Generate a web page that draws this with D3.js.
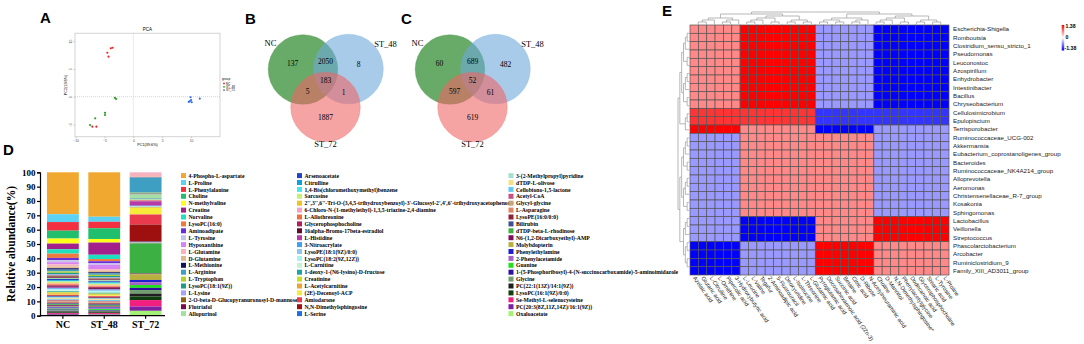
<!DOCTYPE html>
<html>
<head>
<meta charset="utf-8">
<script src="https://cdn.jsdelivr.net/npm/d3@7"></script>
<style>
  body { margin: 0; background: #fff; }
  svg { display: block; }
</style>
</head>
<body>
<svg width="1084" height="344"></svg>
<script>
// ---------- data ----------
const groups = ["NC", "ST_48", "ST_72"];

// A: PCA scores [PC1, PC2]
const pcaNC   = [[-3.9, 8.7], [-3.6, 8.8], [-4.5, 7.9], [-4.3, 7.2], [-7.1, -5.4], [-6.4, -5.4]];
const pcaST48 = [[-7.5, -5.1], [-6.6, -3.9], [-4.9, -2.9], [-4.9, -3.3], [-3.2, -0.2], [-3.0, -0.4]];
const pcaST72 = [[9.9, -0.1], [9.8, -0.8], [10.1, -1.0], [9.6, -0.95], [11.5, -0.35], [10.0, -0.6]];
const pcaTicksX = [-10, -5, 0, 5, 10];
const pcaTicksY = [-5, 0, 5, 10];
const pcaColors = ["#e8262b", "#2ca02c", "#2f6fe8"];

// B, C: Venn counts, regions: NC only, NC&48, 48 only, all, NC&72, 48&72, 72 only
const vennB = [137, 2050, 8, 183, 5, 1, 1887];
const vennC = [60, 689, 482, 52, 597, 61, 619];
const vennColors = ["#2e8b2e", "#6fa8dc", "#ee6666"];

// D: stacked relative abundance
const metabolites = [
  "4-Phospho-L-aspartate","L-Proline","L-Phenylalanine","Choline","N-methylvaline","Creatine","Norvaline",
  "LysoPC(16:0)","Aminoadipate","L-Tyrosine","Hypoxanthine","L-Glutamine","D-Glutamine","L-Methionine",
  "L-Arginine","L-Tryptophan","LysoPC(18:1(9Z))","L-Lysine","2-O-beta-D-Glucopyranuronosyl-D-mannose","Flutriafol","Allopurinol",
  "Arsenoacetate","Citrulline","1,4-Bis(chloromethoxymethyl)benzene","Sarcosine",
  "2'',3'',6''-Tri-O-(3,4,5-trihydroxybenzoyl)-3'-Glucosyl-2',4',6'-trihydroxyacetophenone",
  "6-Chloro-N-(1-methylethyl)-1,3,5-triazine-2,4-diamine","L-Allothreonine","Glycerophosphocholine",
  "16alpha-Bromo-17beta-estradiol","L-Histidine","3-Nitroacrylate","LysoPE(18:1(9Z)/0:0)","LysoPC(18:2(9Z,12Z))",
  "L-Carnitine","1-deoxy-1-(N6-lysino)-D-fructose","Creatinine","L-Acetylcarnitine","(2E)-Decenoyl-ACP",
  "Amiodarone","N,N-Dimethylsphingosine","L-Serine",
  "3-(2-Methylpropyl)pyridine","dTDP-L-olivose","Cellobiono-1,5-lactone","Acetyl-CoA","Glycyl-glycine",
  "L-Asparagine","LysoPE(16:0/0:0)","Bilirubin","dTDP-beta-L-rhodinose","N6-(1,2-Dicarboxyethyl)-AMP",
  "Molybdopterin","Phenylethylamine","2-Phenylacetamide","Guanine",
  "1-(5-Phosphoribosyl)-4-(N-succinocarboxamide)-5-aminoimidazole","Glycine","PC(22:1(13Z)/14:1(9Z))",
  "LysoPC(16:1(9Z)/0:0)","Se-Methyl-L-selenocysteine","PC(20:3(8Z,11Z,14Z)/16:1(9Z))","Oxaloacetate"
];
const metColors = [
  "#f0a830","#5cd2f2","#f2303f","#1fbf6e","#ffff1a","#a3208c","#1fe0be","#f07a3c","#6a2fd6","#c4c4ea",
  "#d683f2","#f7b3bb","#e0ba8f","#12125e","#3f9fc2","#b3d12e","#1f9c8c","#a3a3f2","#8f5f0f","#7a0a4f","#a3e0a3",
  "#2244c4","#0fa0e0","#45e6f2","#c4f075","#f2c21f","#f7a1c4","#f26e3f","#b01f5e","#5e0a2e","#b53aa8",
  "#3fa0f2","#8fc6ee","#a6f2f2","#c4f2d6","#1fa3a3","#c4e01f","#f0a233","#f5ea3a","#ea3a4e","#9e0f0f","#1f6fe0",
  "#a3e0d1","#f2e085","#63c8f2","#c45285","#c4a575","#e08563","#8f1f3f","#3f4f8f","#3cb043","#7f0f5e",
  "#b8b040","#1f1fd1","#a363c4","#1fe01f","#2e0f9e","#70a070","#1f1f1f","#0f3f0f","#f01f80","#7f1fa3","#a3f275"
];
const valuesNC = [
  29.2,5.5,6,5.5,3.5,4,3,3,1.5,1.5,1.5,1.5,1.2,1.0,1.2,1.0,1.0,0.9,0.8,0.8,0.8,
  0.7,0.6,0.5,0.8,0.6,0.5,0.7,0.6,0.5,0.7,0.6,0.5,0.6,0.7,0.6,0.5,0.6,0.7,0.5,0.6,0.7,
  0.6,0.7,0.5,0.6,0.7,0.6,0.5,0.6,0.7,0.6,0.5,0.6,0.7,0.6,0.6,0.7,0.6,0.5,0.6,0.7,0.6
];
const valuesST48 = [
  31,3.5,4.5,7.5,2.5,8.5,3,1.5,1.5,1,3,1.2,1,0.8,1,0.8,1,0.7,0.7,0.6,0.7,
  0.6,0.5,0.6,0.7,0.5,0.6,0.5,0.6,0.7,0.5,0.6,0.5,0.6,0.5,0.6,0.7,0.5,0.6,0.5,0.6,0.5,
  0.5,0.6,0.6,0.5,0.7,0.5,0.6,0.5,0.6,0.6,0.5,0.7,0.5,0.6,0.5,0.6,0.5,0.6,0.6,0.5,0.7
];
const valuesST72 = [
  0,0,0,0,0,0,0,0,0,0,0.2,3.0,0.3,0.2,10.5,0.2,0.3,0.2,0.2,0.3,3.0,
  0.2,0.2,0.2,0.2,0.2,0.2,0.2,0.3,0.2,3.0,0.2,0.2,0.2,0.2,0.2,0.3,0.3,4.5,7.0,12.0,0.4,
  0.1,0.1,0.1,0.1,0.1,0.1,0.1,0.1,21,0.5,4.0,1.5,2,2,1.5,2.5,2,2.5,4.5,3,3.4
];
const abundanceTicks = [0,10,20,30,40,50,60,70,80,90,100];

// E: correlation heatmap
const heatRows = [
  "Escherichia-Shigella","Romboutsia","Clostridium_sensu_stricto_1","Pseudomonas","Leuconostoc","Azospirillum",
  "Enhydrobacter","Intestinibacter","Bacillus","Chryseobacterium","Cellulosimicrobium","Epulopiscium",
  "Terrisporobacter","Ruminococcaceae_UCG-002","Akkermansia","Eubacterium_coprostanoligenes_group","Bacteroides",
  "Ruminococcaceae_NK4A214_group","Alloprevotella","Aeromonas","Christensenellaceae_R-7_group","Kosakonia",
  "Sphingomonas","Lactobacillus","Veillonella","Streptococcus","Phascolarctobacterium","Arcobacter",
  "Ruminiclostridium_9","Family_XIII_AD3011_group"
];
const heatCols = [
  "Azelaic acid","Glutaric acid","L-Citrulline","L-Ornithine","Pipecolic acid","3-Hydroxybutyric acid",
  "L-Leucine","L-Valine","Tegafur","2-Aminoadipic acid","5-Fluorouracil","Deoxyuridine","L-Isoleucine",
  "L-Threonine","L-Glutamic acid",
  "Pyroglutamic acid","Docosahexaenoic acid (22n-3)","Succinic acid","Betaine","Citric acid","D-Ribose",
  "N-Acetylneuraminic acid",
  "Choline","D-Mannitol","N,N-Dimethylsphingosine*","Phenylacetylglycine","Dodecanoic acid",
  "Glycerophosphocholine","Stearic acid","L-Tyrosine","L-Proline"
];
const rowCluster = [0,0,0,0,0,0,0,0,0,0, 1,1, 2, 3,3,3,3,3,3,3,3,3,3, 4,4,4, 5,5,5,5];
const colCluster = [0,0,0,0,0,0, 1,1,1,1,1,1,1,1,1, 2,2,2,2,2,2,2, 3,3,3,3,3,3,3,3,3];
const blockValues = [
  [0.64, 1.38, -0.55, -1.38],
  [1.1, 1.1, -1.1, -1.1],
  [1.38, 0.64, -1.38, -0.55],
  [-0.55, 0.64, 0.64, -0.55],
  [-0.55, -1.38, 0.64, 1.38],
  [-1.38, -0.55, 1.38, 0.64]
];
const heatLimit = 1.38;

// ---------- drawing ----------
const sans = "'Liberation Sans', Arial, sans-serif";
const serif = "'Liberation Serif', 'Times New Roman', serif";
const svg = d3.select("svg");
svg.append("rect").attr("width", 1084).attr("height", 344).attr("fill", "#fff");

[["A", 40, 23], ["B", 245, 24], ["C", 401, 24], ["D", 3, 155], ["E", 662, 16]].forEach(([t, x, y]) => {
  svg.append("text").attr("x", x).attr("y", y).text(t)
    .attr("font-family", sans).attr("font-weight", "bold").attr("font-size", 15);
});

// ----- A: PCA -----
const px = d3.scaleLinear().domain([-10.1, 15]).range([75, 220]);
const py = d3.scaleLinear().domain([-7.2, 11.4]).range([136.7, 33.3]);
const gA = svg.append("g");
gA.append("rect").attr("x", 75).attr("y", 33.3).attr("width", 145).attr("height", 103.4)
  .attr("fill", "none").attr("stroke", "#d4d4d4").attr("stroke-width", 1);
gA.append("line").attr("x1", px(0)).attr("x2", px(0)).attr("y1", 33.3).attr("y2", 136.7)
  .attr("stroke", "#bbb").attr("stroke-width", 0.6).attr("stroke-dasharray", "1,1");
gA.append("line").attr("x1", 75).attr("x2", 220).attr("y1", py(0)).attr("y2", py(0))
  .attr("stroke", "#bbb").attr("stroke-width", 0.6).attr("stroke-dasharray", "1,1");

const axA1 = gA.append("g").attr("transform", "translate(0,136.7)")
  .call(d3.axisBottom(px).tickValues(pcaTicksX).tickSize(1.5).tickPadding(1));
const axA2 = gA.append("g").attr("transform", "translate(75,0)")
  .call(d3.axisLeft(py).tickValues(pcaTicksY).tickSize(1.5).tickPadding(1));
[axA1, axA2].forEach(a => {
  a.select(".domain").remove();
  a.selectAll("line").attr("stroke", "#999").attr("stroke-width", 0.5);
  a.selectAll("text").attr("font-size", 3.5).attr("fill", "#555").attr("font-family", sans);
});
axA2.selectAll("text").attr("transform", "rotate(-90)")
  .attr("text-anchor", "middle").attr("x", 0).attr("y", -3.5).attr("dy", 0);

gA.append("text").attr("x", 147.5).attr("y", 31).attr("text-anchor", "middle")
  .attr("font-size", 4.5).attr("font-family", sans).text("PCA");
gA.append("text").attr("x", 147.5).attr("y", 146).attr("text-anchor", "middle")
  .attr("font-size", 3.8).attr("font-family", sans).text("PC1(39.6%)");
gA.append("text").attr("transform", "translate(67,85) rotate(-90)").attr("text-anchor", "middle")
  .attr("font-size", 3.8).attr("font-family", sans).text("PC2(19.8%)");

[pcaNC, pcaST48, pcaST72].forEach((pts, i) => {
  gA.append("g").selectAll("circle").data(pts).enter().append("circle")
    .attr("cx", d => px(d[0])).attr("cy", d => py(d[1])).attr("r", 1.1)
    .attr("fill", pcaColors[i]);
});
gA.append("text").attr("x", 222).attr("y", 80).attr("font-size", 3.2).attr("font-family", sans).text("group");
groups.forEach((g, i) => {
  gA.append("circle").attr("cx", 224).attr("cy", 83.5 + i * 3.3).attr("r", 0.9).attr("fill", pcaColors[i]);
  gA.append("text").attr("x", 226).attr("y", 84.6 + i * 3.3).attr("font-size", 3).attr("font-family", sans).text(g);
});

// ----- B, C: Venn -----
const circleOffsets = [[-22.5, -12], [23, -12.5], [0, 25.5]];
const labelOffsets = [[-55, -37], [60, -36], [0, 64]];
const regionOffsets = [[-33, -17], [0, -19], [33, -16], [0, 0], [-18, 11], [18, 11.5], [0, 37]];
function drawVenn(cx, cy, counts) {
  const g = svg.append("g").attr("transform", `translate(${cx},${cy})`);
  g.selectAll("circle").data(circleOffsets).enter().append("circle")
    .attr("cx", d => d[0]).attr("cy", d => d[1]).attr("r", 34.8)
    .attr("fill", (d, i) => vennColors[i]).attr("fill-opacity", (d, i) => i === 0 ? 0.72 : 0.6)
    .attr("stroke", (d, i) => vennColors[i]).attr("stroke-opacity", 0.5).attr("stroke-width", 0.6);
  g.selectAll(".set").data(groups).enter().append("text")
    .attr("x", (d, i) => labelOffsets[i][0]).attr("y", (d, i) => labelOffsets[i][1])
    .attr("text-anchor", "middle").attr("dominant-baseline", "middle")
    .attr("font-family", serif).attr("font-size", 8.5).text(d => d);
  g.selectAll(".num").data(counts).enter().append("text")
    .attr("x", (d, i) => regionOffsets[i][0]).attr("y", (d, i) => regionOffsets[i][1])
    .attr("text-anchor", "middle").attr("dominant-baseline", "middle")
    .attr("font-family", serif).attr("font-size", 7.5).text(d => d);
}
drawVenn(325.5, 81.5, vennB);
drawVenn(472.5, 81.5, vennC);

// ----- D: stacked bars -----
const barRows = groups.map((g, i) => {
  const vals = [valuesNC, valuesST48, valuesST72][i];
  const o = { group: g };
  metabolites.forEach((m, j) => { o[m] = vals[j]; });
  return o;
});
const series = d3.stack().keys(metabolites).order(d3.stackOrderReverse)(barRows);
const bx = d3.scaleBand().domain(groups).range([42, 166.5]).paddingInner(0.23).paddingOuter(0.12);
const by = d3.scaleLinear().domain([0, 100]).range([315.7, 172.3]);
const color = d3.scaleOrdinal().domain(metabolites).range(metColors);
const gD = svg.append("g");
gD.selectAll("g.s").data(series).enter().append("g").attr("fill", d => color(d.key))
  .selectAll("rect").data(d => d).enter().append("rect")
  .attr("x", d => bx(d.data.group)).attr("width", bx.bandwidth())
  .attr("y", d => by(d[1])).attr("height", d => Math.max(0, by(d[0]) - by(d[1])));

const axDy = gD.append("g").attr("transform", "translate(40,0)")
  .call(d3.axisLeft(by).tickValues(abundanceTicks).tickSize(3).tickPadding(1.5));
const axDx = gD.append("g").attr("transform", "translate(0,315.7)")
  .call(d3.axisBottom(bx).tickSize(3).tickPadding(2).tickSizeOuter(0));
axDx.select(".domain").attr("d", "M40,0H165");
[axDy, axDx].forEach(a => {
  a.selectAll("path,line").attr("stroke", "#000").attr("stroke-width", 1.2);
  a.selectAll("text").attr("font-family", serif).attr("font-weight", "bold").attr("fill", "#000");
});
axDy.selectAll("text").attr("font-size", 9);
axDx.selectAll("text").attr("font-size", 10);
gD.append("text").attr("transform", "translate(15,244) rotate(-90)").attr("text-anchor", "middle")
  .attr("font-family", serif).attr("font-weight", "bold").attr("font-size", 11.5)
  .text("Relative abundance(%)");

const legSwatchX = [181, 297, 508.5];
const legItems = gD.append("g").selectAll("g").data(metabolites).enter().append("g")
  .attr("transform", (d, i) => `translate(${legSwatchX[Math.floor(i / 21)]},${175.7 + (i % 21) * 6.9})`);
legItems.append("rect").attr("x", 0).attr("y", -2.6).attr("width", 5).attr("height", 5)
  .attr("fill", d => color(d));
legItems.append("text").attr("x", 7.5).attr("y", 0).attr("dy", "0.35em")
  .attr("font-family", serif).attr("font-weight", "bold").attr("font-size", 5.7).text(d => d);

// ----- E: heatmap -----
const hx = d3.scaleBand().domain(d3.range(heatCols.length)).range([690, 949]);
const hy = d3.scaleBand().domain(d3.range(heatRows.length)).range([25, 275]);
const heatColor = d3.scaleLinear().domain([-heatLimit, 0, heatLimit]).range(["#0000ff", "#ffffff", "#ff0000"]);
const cells = [];
heatRows.forEach((r, i) => heatCols.forEach((c, j) => {
  cells.push({ r: i, c: j, v: blockValues[rowCluster[i]][colCluster[j]] });
}));
const gE = svg.append("g");
gE.selectAll("rect").data(cells).enter().append("rect")
  .attr("x", d => hx(d.c)).attr("y", d => hy(d.r))
  .attr("width", hx.bandwidth()).attr("height", hy.bandwidth())
  .attr("fill", d => heatColor(d.v)).attr("stroke", "#555").attr("stroke-width", 0.7);

gE.selectAll(".rl").data(heatRows).enter().append("text")
  .attr("x", 953).attr("y", (d, i) => hy(i) + hy.bandwidth() / 2).attr("dy", "0.35em")
  .attr("font-family", sans).attr("font-size", 6.2).attr("fill", "#222").text(d => d);
gE.selectAll(".cl").data(heatCols).enter().append("text")
  .attr("transform", (d, i) => `translate(${hx(i) + hx.bandwidth() / 2 - 1.5},278) rotate(55)`)
  .attr("font-family", sans).attr("font-size", 5.7).attr("fill", "#222").text(d => d);

// dendrograms built from cluster membership
function pairTree(ids) {
  if (ids.length === 1) return { id: ids[0] };
  const m = Math.ceil(ids.length / 2);
  return { children: [pairTree(ids.slice(0, m)), pairTree(ids.slice(m))] };
}
function membersOf(assign, k) { return assign.map((a, i) => a === k ? i : -1).filter(i => i >= 0); }
const colTree = { children: [
  { children: [pairTree(membersOf(colCluster, 0)), pairTree(membersOf(colCluster, 1))] },
  { children: [pairTree(membersOf(colCluster, 2)), pairTree(membersOf(colCluster, 3))] } ] };
const rowTree = { children: [
  { children: [pairTree(membersOf(rowCluster, 0)), { children: [pairTree(membersOf(rowCluster, 1)), pairTree(membersOf(rowCluster, 2))] }] },
  { children: [pairTree(membersOf(rowCluster, 3)), { children: [pairTree(membersOf(rowCluster, 4)), pairTree(membersOf(rowCluster, 5))] }] } ] };

const colRoot = d3.cluster().size([hx.step() * (heatCols.length - 1), 12]).separation(() => 1)(d3.hierarchy(colTree));
const x0 = hx(0) + hx.bandwidth() / 2;
gE.append("g").selectAll("path").data(colRoot.descendants().slice(1)).enter().append("path")
  .attr("d", d => `M${x0 + d.x},${12 + d.y}V${12 + d.parent.y}H${x0 + d.parent.x}`)
  .attr("fill", "none").attr("stroke", "#999").attr("stroke-width", 0.7);

const rowRoot = d3.cluster().size([hy.step() * (heatRows.length - 1), 11]).separation(() => 1)(d3.hierarchy(rowTree));
const y0 = hy(0) + hy.bandwidth() / 2;
gE.append("g").selectAll("path").data(rowRoot.descendants().slice(1)).enter().append("path")
  .attr("d", d => `M${678 + d.y},${y0 + d.x}H${678 + d.parent.y}V${y0 + d.parent.x}`)
  .attr("fill", "none").attr("stroke", "#999").attr("stroke-width", 0.7);

// colour key
const defs = svg.append("defs");
const grad = defs.append("linearGradient").attr("id", "heatGrad").attr("x1", 0).attr("x2", 0).attr("y1", 0).attr("y2", 1);
[[0, "#ff0000"], [0.5, "#ffffff"], [1, "#0000ff"]].forEach(([o, c]) =>
  grad.append("stop").attr("offset", o).attr("stop-color", c));
gE.append("rect").attr("x", 1061.7).attr("y", 25).attr("width", 2.5).attr("height", 25.5).attr("fill", "url(#heatGrad)");
const keyScale = d3.scaleLinear().domain([heatLimit, -heatLimit]).range([26.5, 48.5]);
gE.selectAll(".kl").data([heatLimit, 0, -heatLimit]).enter().append("text")
  .attr("x", d => d < 0 ? 1064.5 : 1065.5).attr("y", d => keyScale(d)).attr("dy", "0.35em")
  .attr("font-family", sans).attr("font-weight", "bold").attr("font-size", 5.2).text(d => d);
</script>
</body>
</html>
